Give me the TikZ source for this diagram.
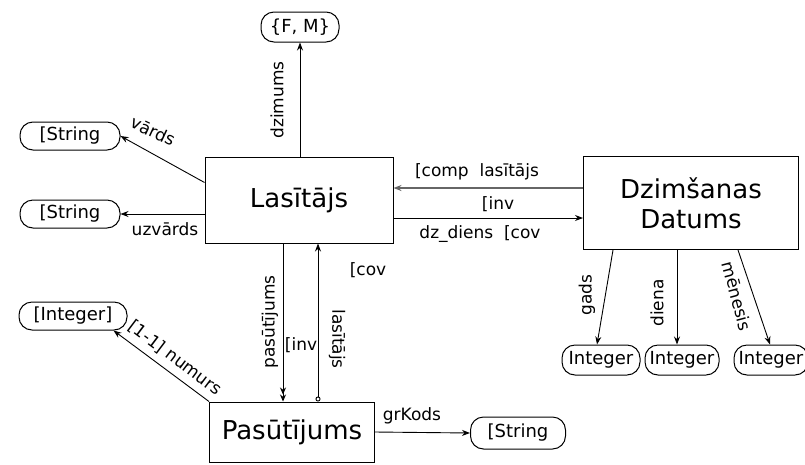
\documentclass[tikz,border=0pt]{standalone}
\usepackage{fontspec}
\setmainfont{DejaVu Sans}
\usetikzlibrary{arrows.meta,calc}
\begin{document}
\begin{tikzpicture}[x=1pt,y=-1pt,
  ent/.style={draw, line width=1pt, inner sep=0pt, font=\fontsize{26}{30}\selectfont, align=center},
  pill/.style={draw, rectangle, rounded corners=13pt, line width=1pt, inner xsep=2pt, inner ysep=0pt, minimum height=28pt, font=\fontsize{18}{20}\selectfont},
  lbl/.style={font=\fontsize{17}{19}\selectfont, inner sep=1pt},
  arr/.style={line width=0.9pt, -{Stealth[length=8pt,width=6pt]}},
]
\useasboundingbox (0,0) rectangle (805,464);
% entities
\node[ent, minimum width=188pt, minimum height=86pt] (las) at (299,200) {Lasītājs};
\node[ent, minimum width=215pt, minimum height=93pt] (dz) at (691,203) {Dzimšanas\\Datums};
\node[ent, minimum width=165pt, minimum height=60pt] (pas) at (292,432) {Pasūtījums};
% value pills
\node[pill, minimum width=78pt, minimum height=30pt] (fm) at (300,27) {\{F, M\}};
\node[pill, minimum width=100pt] (s1) at (70,136) {[String};
\node[pill, minimum width=100pt] (s2) at (70,214) {[String};
\node[pill, minimum width=108pt] (i0) at (73,316) {[Integer]};
\node[pill, minimum width=78pt, minimum height=30pt] (i1) at (601,360) {Integer};
\node[pill, minimum width=74pt, minimum height=30pt] (i2) at (682,360) {Integer};
\node[pill, minimum width=74pt, minimum height=30pt] (i3) at (771,360) {Integer};
\node[pill, minimum width=95pt, minimum height=32pt] (s3) at (518,433) {[String};
% connectors
\draw[arr] (fm.south |- las.north) -- (fm.south);
\draw[arr] ([yshift=-26pt]las.north west) -- (s1.east);
\draw[arr] (las.west |- s2.east) -- (s2.east);
\draw[arr, draw=black!60, line width=1.6pt] ([yshift=15pt]dz.west) -- ([yshift=15pt]dz.west -| las.east);
\draw[arr] ([yshift=-18pt]las.east) -- ([yshift=-18pt]las.east -| dz.west);
\draw[line width=0.9pt, -{Stealth[length=7pt,width=6pt] Stealth[length=7pt,width=6pt]}] ([xshift=-16pt]las.south) -- ([xshift=-16pt]las.south |- pas.north);
\draw[line width=0.9pt, {Circle[open,length=5pt]}-{Stealth[length=8pt,width=6pt]}] ([xshift=19pt]las.south |- pas.north) -- ([xshift=19pt]las.south);
\draw[arr] (pas.north west) -- ([xshift=-14pt]i0.south east);
\draw[arr] (pas.east) -- (s3.west);
\draw[arr] ([xshift=-78pt]dz.south) -- ([xshift=-4pt]i1.north);
\draw[arr] ([xshift=-14pt]dz.south) -- ([xshift=-14pt]dz.south |- i2.north);
\draw[arr] ([xshift=47pt]dz.south) -- ([xshift=-1pt]i3.north);
% labels
\node[lbl, rotate=90] (l1) at (277,100) {dzimums};
\node[lbl, rotate=-25] (l2) at (153,131) {vārds};
\node[lbl] (l3) at (165,229) {uzvārds};
\node[lbl] (l4) at (477,172) {[comp\ \ lasītājs};
\node[lbl] (l5) at (498,204) {[inv};
\node[lbl] (l6) at (480,234) {dz\_diens\ \ [cov};
\node[lbl, rotate=90] (l7) at (270,322) {pasūtījums};
\node[lbl] (l8) at (301,345) {[inv};
\node[lbl, rotate=-90] (l9) at (337,339) {lasītājs};
\node[lbl] (l10) at (368,270) {[cov};
\node[lbl, rotate=-37] (l11) at (175,358) {[1-1]\ numurs};
\node[lbl] (l12) at (412,416) {grKods};
\node[lbl, rotate=90] (l13) at (587,295) {gads};
\node[lbl, rotate=90] (l14) at (657,303) {diena};
\node[lbl, rotate=-75] (l15) at (737,296) {mēnesis};
\end{tikzpicture}
\end{document}
